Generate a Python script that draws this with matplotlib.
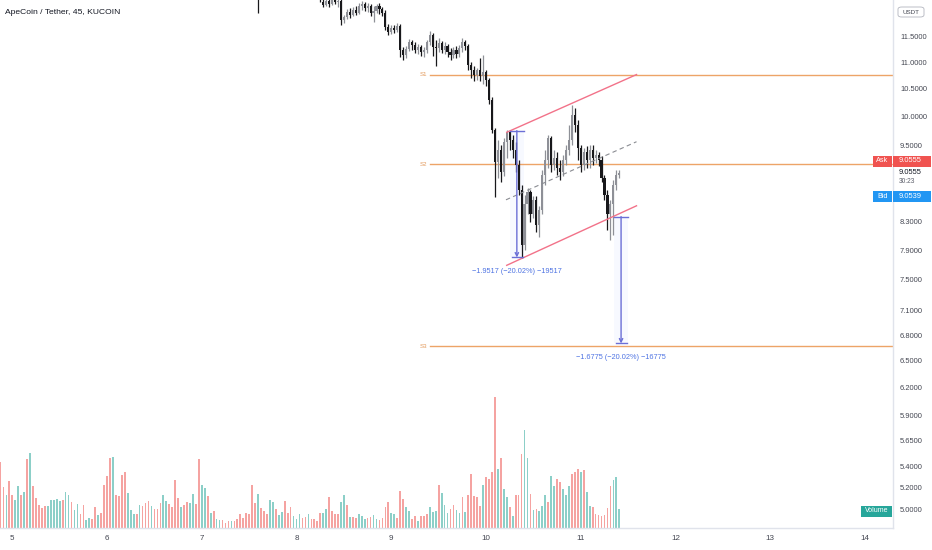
import numpy as np
import matplotlib
matplotlib.use('Agg')
import matplotlib.pyplot as plt
from matplotlib.patches import Rectangle, FancyBboxPatch
from matplotlib.ticker import NullLocator

W, H = 932, 550
BAR_DAYS = 45 / 1440          # 45 minute bars
FIRST_BAR = 4.875             # time (days) of first volume bar
CANDLE_START = 84             # bar index of first candle in the lists below

# volume per bar, colour of each bar: r = down, t = up
vol_vals = [67, 42, 33, 48, 34, 28, 43, 34, 37, 70,
            76, 43, 30, 23, 20, 22, 22, 28, 28, 29,
            27, 28, 37, 33, 26, 18, 24, 14, 23, 8,
            10, 9, 21, 13, 15, 44, 53, 71, 72, 34,
            32, 54, 57, 36, 18, 14, 14, 23, 22, 25,
            27, 22, 19, 19, 25, 33, 27, 24, 21, 49,
            30, 21, 23, 26, 25, 35, 24, 70, 44, 41,
            32, 15, 17, 9, 8, 8, 5, 7, 7, 7,
            9, 14, 10, 15, 14, 44, 25, 35, 20, 17,
            14, 28, 26, 19, 13, 16, 27, 15, 21, 12,
            9, 14, 10, 11, 14, 9, 9, 7, 15, 15,
            19, 31, 17, 14, 14, 26, 33, 23, 11, 11,
            10, 14, 12, 9, 10, 11, 13, 9, 8, 10,
            21, 26, 15, 14, 10, 38, 29, 21, 17, 9,
            12, 7, 12, 12, 14, 21, 16, 17, 44, 36,
            23, 15, 19, 23, 18, 15, 31, 16, 33, 55,
            32, 31, 22, 44, 52, 50, 57, 133, 60, 71,
            40, 31, 21, 12, 33, 34, 75, 100, 71, 35,
            18, 19, 17, 22, 33, 26, 53, 43, 50, 47,
            40, 33, 43, 55, 57, 60, 57, 59, 37, 22,
            21, 14, 13, 12, 13, 20, 43, 49, 52, 19]
vol_dir = list("rrtrrttrtr"
               "trrrrrtttt"
               "trttrttrrt"
               "trrtrrrrtr"
               "rrrtttrtrr"
               "rtrrrttrrr"
               "rtrrttrrtt"
               "rtrttrrrtr"
               "rrrrrrrtrr"
               "rttrttrrrt"
               "ttrrtrrrrt"
               "trrrrttrtr"
               "rtttrrttrr"
               "rrttrrrttr"
               "rtrrrtttrt"
               "ttrrttrtrr"
               "rrrtrrrrtr"
               "ttrtrrrttr"
               "trtttrttrr"
               "tttrrrtrtt"
               "rrrrrrrttt")

# candles (price, USDT), bars CANDLE_START .. last
c_open = [12.60, 12.66, 12.55, 12.45, 12.40, 12.55, 12.64, 12.72, 12.66, 12.60,
          12.52, 12.57, 12.62, 12.58, 12.50, 12.54, 12.49, 12.45, 12.51, 12.56,
          12.52, 12.46, 12.42, 12.45, 12.40,
          12.23, 12.16, 12.25, 12.18, 12.31, 12.23, 12.25, 11.85, 11.91, 12.02,
          11.95, 12.06, 11.99, 12.14, 12.18, 12.10, 12.14, 11.99, 12.04, 12.14,
          12.08, 11.99, 11.70, 11.60, 11.68, 11.64, 11.72, 11.24, 11.14, 11.26,
          11.40, 11.34, 11.24, 11.30, 11.20, 11.24, 11.40, 11.54, 11.30, 11.28,
          11.38, 11.24, 11.32, 11.20, 11.14, 11.24, 11.16, 11.28, 11.40, 11.32,
          10.95, 10.85, 10.76, 10.85, 10.74, 10.81, 10.66, 10.29, 9.76, 9.22,
          9.42, 9.07, 9.56, 9.73, 9.59, 9.42, 9.18, 8.78, 7.97, 8.56,
          8.75, 8.41, 8.63, 8.26, 8.48, 9.02, 9.26, 9.63, 9.18, 9.29,
          9.13, 9.07, 9.26, 9.42, 9.59, 10.02, 9.85, 9.46, 9.18, 9.39,
          9.26, 9.42, 9.29, 9.34, 9.26, 8.97, 8.71, 8.41, 8.56, 8.86,
          9.02]
c_high = [12.75, 12.72, 12.62, 12.52, 12.58, 12.70, 12.78, 12.80, 12.74, 12.68,
          12.60, 12.66, 12.70, 12.64, 12.58, 12.62, 12.56, 12.55, 12.60, 12.62,
          12.58, 12.54, 12.50, 12.52, 12.46,
          12.33, 12.31, 12.36, 12.40, 12.38, 12.33, 12.29, 11.95, 12.08, 12.10,
          12.12, 12.14, 12.21, 12.25, 12.23, 12.21, 12.18, 12.14, 12.18, 12.21,
          12.12, 12.06, 11.76, 11.74, 11.74, 11.78, 11.76, 11.30, 11.32, 11.46,
          11.44, 11.40, 11.36, 11.34, 11.30, 11.44, 11.62, 11.58, 11.44, 11.48,
          11.42, 11.40, 11.36, 11.28, 11.30, 11.32, 11.34, 11.48, 11.44, 11.36,
          11.00, 10.93, 10.89, 11.08, 11.14, 10.85, 10.70, 10.34, 9.80, 9.59,
          9.51, 9.63, 9.76, 9.75, 9.68, 9.56, 9.26, 8.86, 8.71, 8.81,
          8.78, 8.69, 8.69, 8.54, 9.10, 9.42, 9.68, 9.66, 9.42, 9.39,
          9.26, 9.34, 9.51, 9.85, 10.20, 10.15, 9.94, 9.51, 9.46, 9.49,
          9.51, 9.51, 9.42, 9.39, 9.32, 9.02, 8.78, 8.63, 8.94, 9.10,
          9.10]
c_low = [12.52, 12.50, 12.38, 11.99, 12.36, 12.50, 12.58, 12.60, 12.55, 12.48,
         12.44, 12.50, 12.54, 12.46, 12.42, 12.47, 12.40, 12.38, 12.45, 12.48,
         12.40, 12.38, 12.35, 12.36, 12.22,
         12.12, 12.14, 12.12, 12.16, 12.18, 12.12, 11.74, 11.78, 11.87, 11.89,
         11.93, 11.95, 11.97, 12.06, 12.04, 12.02, 11.93, 11.80, 11.99, 11.97,
         11.93, 11.64, 11.54, 11.56, 11.58, 11.60, 11.10, 11.04, 11.08, 11.22,
         11.24, 11.18, 11.16, 11.12, 11.10, 11.18, 11.34, 11.12, 10.93, 11.20,
         11.18, 11.16, 11.10, 11.04, 11.08, 11.08, 11.10, 11.20, 11.24, 10.85,
         10.70, 10.63, 10.66, 10.63, 10.59, 10.55, 10.22, 9.70, 8.68, 8.97,
         8.91, 9.00, 9.29, 9.42, 9.29, 9.07, 8.71, 7.79, 7.90, 8.41,
         8.30, 8.36, 8.16, 8.08, 8.41, 8.86, 9.13, 9.07, 9.10, 9.02,
         8.94, 9.00, 9.18, 9.34, 9.51, 9.73, 9.26, 9.07, 9.10, 9.13,
         9.13, 9.18, 9.21, 9.16, 8.91, 8.63, 8.19, 8.04, 8.11, 8.78,
         8.97]
c_close = [12.66, 12.55, 12.45, 12.40, 12.55, 12.64, 12.72, 12.66, 12.60, 12.52,
           12.57, 12.62, 12.58, 12.50, 12.54, 12.49, 12.45, 12.51, 12.56, 12.52,
           12.46, 12.42, 12.45, 12.40, 12.26,
           12.16, 12.25, 12.18, 12.31, 12.23, 12.25, 11.85, 11.91, 12.02, 11.95,
           12.06, 11.99, 12.14, 12.18, 12.10, 12.14, 11.99, 12.04, 12.14, 12.08,
           11.99, 11.70, 11.60, 11.68, 11.64, 11.72, 11.24, 11.14, 11.26, 11.40,
           11.34, 11.24, 11.30, 11.20, 11.24, 11.40, 11.54, 11.30, 11.28, 11.38,
           11.24, 11.32, 11.20, 11.14, 11.24, 11.16, 11.28, 11.40, 11.32, 10.95,
           10.85, 10.76, 10.85, 10.74, 10.81, 10.66, 10.29, 9.76, 9.22, 9.42,
           9.07, 9.56, 9.73, 9.59, 9.42, 9.18, 8.78, 7.97, 8.56, 8.75,
           8.41, 8.63, 8.26, 8.48, 9.02, 9.26, 9.63, 9.18, 9.29, 9.13,
           9.07, 9.26, 9.42, 9.59, 10.02, 9.85, 9.46, 9.18, 9.39, 9.26,
           9.42, 9.29, 9.34, 9.26, 8.97, 8.71, 8.41, 8.56, 8.86, 9.02,
           9.0555]

price_ticks = [11.5, 11.0, 10.5, 10.0, 9.5, 8.3, 7.9, 7.5, 7.1, 6.8,
               6.5, 6.2, 5.9, 5.65, 5.4, 5.2, 5.0]
day_ticks = [5, 6, 7, 8, 9, 10, 11, 12, 13, 14]

# support levels and drawings
support_levels = {'S1': 10.76, 'S2': 9.19, 'S3': 6.67}
support_start = 9.41
channel_upper = ([10.218, 11.588], [9.72, 10.76])
channel_lower = ([10.218, 11.588], [7.69, 8.54])
channel_mid = ([10.21, 11.588], [8.63, 9.56])
measures = [  # x, top, bottom, label
    (10.325, 9.749, 7.797, '\u22121.9517 (\u221220.02%) \u221219517'),
    (11.425, 8.379, 6.7015, '\u22121.6775 (\u221220.02%) \u221216775'),
]
ask, bid, last_price = 9.0555, 9.0539, 9.0555

assert len(c_open) == len(c_high) == len(c_low) == len(c_close)
assert len(vol_vals) == len(vol_dir)

plt.rcParams['font.family'] = ['Liberation Sans', 'DejaVu Sans']

t_vol = FIRST_BAR + np.arange(len(vol_vals)) * BAR_DAYS
t_c = FIRST_BAR + (CANDLE_START + np.arange(len(c_open))) * BAR_DAYS
o = np.array(c_open); h = np.array(c_high); l = np.array(c_low); c = np.array(c_close)

fig = plt.figure(figsize=(W / 100, H / 100), dpi=100)
fig.patch.set_facecolor('white')
ax = fig.add_axes([0, 22 / H, 893 / W, 528 / H])
axv = ax.twinx()
ax.set_zorder(axv.get_zorder() + 1)
ax.patch.set_visible(False)

# volume
vcol = ['#f5a3a1' if d == 'r' else '#8ccfc8' for d in vol_dir]
axv.bar(t_vol, vol_vals, width=BAR_DAYS * 0.58, color=vcol, linewidth=0)
axv.set_ylim(0, max(vol_vals) * 528 / 131)
axv.set_axis_off()

# candles
up = c >= o
ccol = np.where(up, '#8e9097', '#18181b')
ax.vlines(t_c, l, h, colors=ccol, linewidth=0.9, zorder=3)
ax.bar(t_c, np.maximum(np.abs(c - o), 0.008), bottom=np.minimum(o, c),
       width=BAR_DAYS * 0.72, color=ccol, linewidth=0, zorder=3)

ax.set_yscale('log')
ax.set_ylim(4.842, 12.27)
ax.set_xlim(4.870, 14.295)

# support lines
for name, lvl in support_levels.items():
    ax.plot([support_start, 14.4], [lvl, lvl], color='#eda468', linewidth=1, zorder=2)
    ax.text(support_start - 0.035, lvl, name, ha='right', va='center',
            fontsize=4.4, color='#e39a5c')

# channel
ax.plot(*channel_upper, color='#f27289', linewidth=1, zorder=4)
ax.plot(*channel_lower, color='#f27289', linewidth=1, zorder=4)
ax.plot(*channel_mid, color='#8a8c92', linewidth=0.8, dashes=(4, 3), zorder=4)

# price range measures
mcol = '#6b6fd6'
for x, top, bot, label in measures:
    ax.fill_between([x - 0.075, x + 0.075], bot, top, color='#2962ff', alpha=0.035, linewidth=0)
    ax.plot([x - 0.075, x + 0.075], [top, top], color=mcol, linewidth=1, zorder=5)
    ax.plot([x - 0.05, x + 0.06], [bot, bot], color=mcol, linewidth=1, zorder=5)
    ax.annotate('', xy=(x, bot), xytext=(x, top),
                arrowprops=dict(arrowstyle='->', color=mcol, lw=1,
                                shrinkA=0, shrinkB=0, mutation_scale=6), zorder=5)
    ax.text(x, bot * 0.975, label, ha='center', va='center', fontsize=5.3, color='#4f74e3')

# axes
for s in ['top', 'left']:
    ax.spines[s].set_visible(False)
for s in ['right', 'bottom']:
    ax.spines[s].set_color('#e0e3eb')
    ax.spines[s].set_linewidth(1)
ax.yaxis.tick_right()
ax.set_yticks(price_ticks)
ax.set_yticklabels([f'{v:.4f}' for v in price_ticks])
ax.yaxis.set_minor_locator(NullLocator())
ax.tick_params(axis='y', length=0, pad=5, labelsize=5.4, labelcolor='#434651')
ax.set_xticks(day_ticks)
ax.set_xticklabels([str(d) for d in day_ticks])
ax.tick_params(axis='x', length=0, pad=5, labelsize=5.8, labelcolor='#434651')


def px_box(x0, y0, x1, y1, color):
    fig.patches.append(Rectangle((x0 / W, 1 - y1 / H), (x1 - x0) / W, (y1 - y0) / H,
                                 transform=fig.transFigure, facecolor=color,
                                 edgecolor='none', zorder=6))


def px_text(x, y, s, **kw):
    fig.text(x / W, 1 - y / H, s, va='center', zorder=7, **kw)


# title
px_text(5, 12, 'ApeCoin / Tether, 45, KUCOIN', fontsize=6.1, color='#131722')

# currency badge
fig.patches.append(FancyBboxPatch((898 / W, 1 - 17 / H), 26 / W, 10 / H,
                                  boxstyle='round,pad=0,rounding_size=0.004',
                                  transform=fig.transFigure, facecolor='white',
                                  edgecolor='#b2b5be', linewidth=0.6, zorder=6))
px_text(911, 12, 'USDT', fontsize=4.5, color='#434651', ha='center')

# ask / bid / last price labels
px_box(873, 155.5, 892, 166.5, '#f05350')
px_box(893, 155.5, 931, 166.5, '#f05350')
px_text(882.5, 161, 'Ask', fontsize=5.2, color='white', ha='center')
px_text(899, 161, f'{ask:.4f}', fontsize=5.4, color='white')
px_text(899, 172, f'{last_price:.4f}', fontsize=5.4, color='#131722')
px_text(899, 181.5, '30:23', fontsize=4.8, color='#5d606b')
px_box(873, 190.5, 892, 201.5, '#2196f3')
px_box(893, 190.5, 931, 201.5, '#2196f3')
px_text(882.5, 196, 'Bid', fontsize=5.2, color='white', ha='center')
px_text(899, 196, f'{bid:.4f}', fontsize=5.4, color='white')

# volume badge
px_box(861, 505.5, 892, 516.5, '#26a69a')
px_text(876.5, 511, 'Volume', fontsize=5, color='white', ha='center')

fig.savefig('out.png', dpi=100, facecolor='white')
